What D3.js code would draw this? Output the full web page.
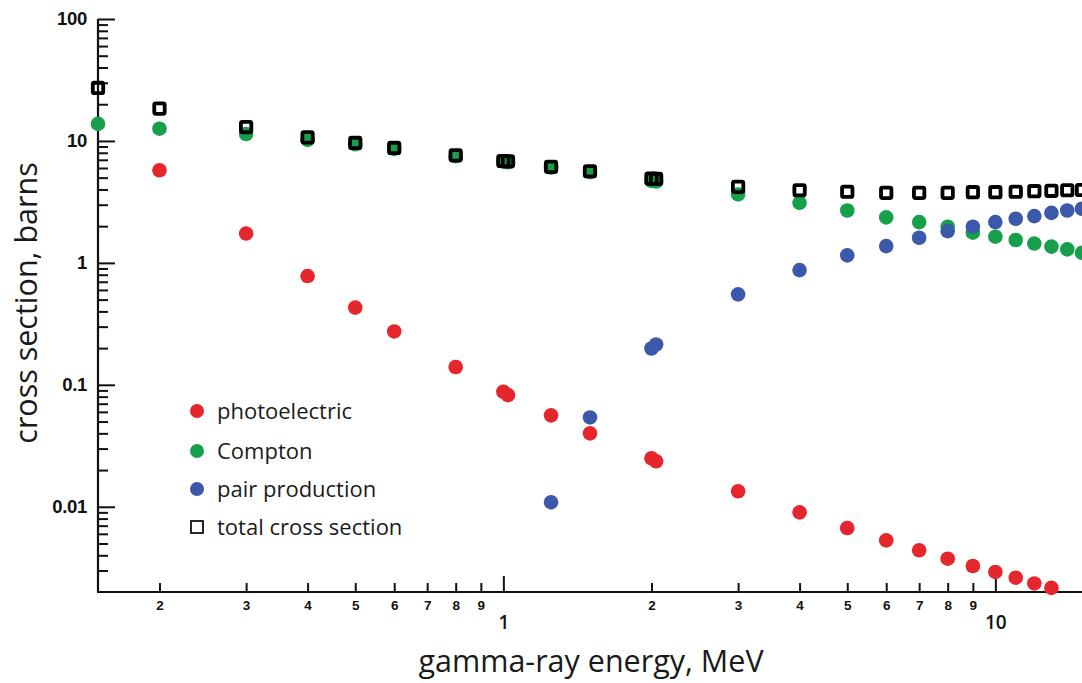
<!DOCTYPE html>
<html>
<head>
<meta charset="utf-8">
<script src="https://cdn.jsdelivr.net/npm/d3@7"></script>
<style>
  body { margin: 0; background: #fff; }
  svg { display: block; }
</style>
</head>
<body>
<div id="chart"></div>
<script>
// Photon energies, MeV
const energies = [0.15, 0.2, 0.3, 0.4, 0.5, 0.6, 0.8, 1.0, 1.022, 1.25, 1.5, 2.0, 2.044,
    3, 4, 5, 6, 7, 8, 9, 10, 11, 12, 13, 14, 15];

// Cross sections in barns (null = no point shown)
const photoelectric = [null, 5.75, 1.74, 0.78, 0.43, 0.274, 0.140, 0.0877, 0.0824, 0.0562, 0.040,
    0.025, 0.0236, 0.0134, 0.0090, 0.0067, 0.0053, 0.0044, 0.00375, 0.00327, 0.00292,
    0.00262, 0.00235, 0.00216, null, null];
const compton = [13.8, 12.6, 11.4, 10.2, 9.4, 8.6, 7.5, 6.76, 6.7, 6.06, 5.55, 4.7, 4.65,
    3.64, 3.11, 2.69, 2.36, 2.16, 1.98, 1.77, 1.64, 1.54, 1.44, 1.36, 1.29, 1.21];
const pairProduction = [null, null, null, null, null, null, null, null, null, 0.0109, 0.054,
    0.1985, 0.214, 0.552, 0.873, 1.152, 1.373, 1.607, 1.82, 1.98, 2.16, 2.30, 2.42, 2.57,
    2.69, 2.78];
const totalCrossSection = [27.2, 18.4, 13.0, 10.7, 9.63, 8.76, 7.62, 6.85, 6.8, 6.13, 5.64,
    4.91, 4.88, 4.20, 3.94, 3.83, 3.75, 3.75, 3.75, 3.80, 3.80, 3.83, 3.87, 3.90, 3.94, 3.96];

// Axis ticks
const xMajorTicks = [1, 10];
const xMinorTicks = [0.2, 0.3, 0.4, 0.5, 0.6, 0.7, 0.8, 0.9, 2, 3, 4, 5, 6, 7, 8, 9];
const yMajorTicks = [0.01, 0.1, 1, 10, 100];
const yMajorLabels = ["0.01", "0.1", "1", "10", "100"];
const yMinorDigits = [2, 3, 4, 5, 6, 7, 8, 9];

const seriesNames = ["photoelectric", "Compton", "pair production", "total cross section"];
const colors = { photo: "#e5262d", compton: "#16a04c", pair: "#3b58aa" };

(function () {
    const W = 1082, H = 683;
    const plotLeft = 98, plotBottom = 592, plotTop = 19;

    const svg = d3.select("#chart").append("svg")
        .attr("width", W)
        .attr("height", H);

    svg.append("rect").attr("width", W).attr("height", H).attr("fill", "#fff");

    // Scales (x runs past the right edge, as in the cropped original)
    const x = d3.scaleLog().domain([0.15, 20]).range([plotLeft, plotLeft + 492 * Math.log10(20 / 0.15)]);
    const y = d3.scaleLog().domain([0.002, 100]).range([plotBottom, plotTop]);

    // Minor y ticks for each decade
    const yMinorTicks = [];
    [0.001, 0.01, 0.1, 1, 10].forEach(function (dec) {
        yMinorDigits.forEach(function (d) {
            const v = d * dec;
            if (v > 0.0021 && v < 100) yMinorTicks.push(v);
        });
    });

    // Y axis: major ticks with labels, minor ticks without
    const yMajor = svg.append("g")
        .attr("transform", `translate(${plotLeft},0)`)
        .call(d3.axisLeft(y).tickValues(yMajorTicks)
            .tickFormat((d, i) => yMajorLabels[i])
            .tickSize(-17).tickPadding(11));
    yMajor.select(".domain").remove();
    yMajor.selectAll("text")
        .attr("font-family", "'Liberation Sans', Arial, sans-serif")
        .attr("font-weight", "bold")
        .attr("font-size", 18.5)
        .attr("letter-spacing", -0.3)
        .attr("fill", "#111");

    const yMinor = svg.append("g")
        .attr("transform", `translate(${plotLeft},0)`)
        .call(d3.axisLeft(y).tickValues(yMinorTicks).tickFormat("").tickSize(-10));
    yMinor.select(".domain").remove();

    // X axis: major and minor ticks, both labelled
    const xMinor = svg.append("g")
        .attr("transform", `translate(0,${plotBottom})`)
        .call(d3.axisBottom(x).tickValues(xMinorTicks)
            .tickFormat(d => Math.round(d / Math.pow(10, Math.floor(Math.log10(d) + 1e-9))))
            .tickSize(-9).tickPadding(8));
    xMinor.select(".domain").remove();
    xMinor.selectAll("text")
        .attr("font-family", "'Liberation Sans', Arial, sans-serif")
        .attr("font-weight", "bold")
        .attr("font-size", 13.5)
        .attr("fill", "#111");

    const xMajor = svg.append("g")
        .attr("transform", `translate(0,${plotBottom})`)
        .call(d3.axisBottom(x).tickValues(xMajorTicks).tickFormat(d3.format("d"))
            .tickSize(-16).tickPadding(24));
    xMajor.select(".domain").remove();
    xMajor.selectAll("text")
        .attr("font-family", "'Open Sans', sans-serif")
        .attr("font-weight", 600)
        .attr("font-size", 19)
        .attr("fill", "#111");

    svg.selectAll(".tick line").attr("stroke", "#111").attr("stroke-width", 2);

    // Axis lines
    svg.append("line")
        .attr("x1", plotLeft).attr("x2", plotLeft)
        .attr("y1", y(100)).attr("y2", plotBottom)
        .attr("stroke", "#111").attr("stroke-width", 2.2);
    svg.append("line")
        .attr("x1", plotLeft - 1).attr("x2", W)
        .attr("y1", plotBottom).attr("y2", plotBottom)
        .attr("stroke", "#111").attr("stroke-width", 2.2);

    // Axis titles
    svg.append("text")
        .attr("x", 591)
        .attr("y", 672)
        .attr("text-anchor", "middle")
        .attr("font-family", "'Open Sans', sans-serif")
        .attr("font-size", 30.5)
        .attr("fill", "#1a1a1a")
        .text("gamma-ray energy, MeV");

    svg.append("text")
        .attr("transform", "translate(37,303) rotate(-90)")
        .attr("text-anchor", "middle")
        .attr("font-family", "'Open Sans', sans-serif")
        .attr("font-size", 30.5)
        .attr("fill", "#1a1a1a")
        .text("cross section, barns");

    // Points
    function dotSeries(values, color) {
        const pts = energies.map((e, i) => ({ e: e, v: values[i] })).filter(d => d.v != null);
        svg.append("g").selectAll("circle")
            .data(pts)
            .join("circle")
            .attr("cx", d => x(d.e))
            .attr("cy", d => y(d.v))
            .attr("r", 7.3)
            .attr("fill", color);
    }

    dotSeries(photoelectric, colors.photo);
    dotSeries(compton, colors.compton);
    dotSeries(pairProduction, colors.pair);

    const totals = energies.map((e, i) => ({ e: e, v: totalCrossSection[i] }));
    svg.append("g").selectAll("rect")
        .data(totals)
        .join("rect")
        .attr("x", d => x(d.e) - 5.2)
        .attr("y", d => y(d.v) - 5.2)
        .attr("width", 10.4)
        .attr("height", 10.4)
        .attr("rx", 1.5)
        .attr("fill", "none")
        .attr("stroke", "#000")
        .attr("stroke-width", 3.8);

    // Legend
    const legendY = [411, 451, 489, 527];
    const legend = svg.append("g");
    const legendColors = [colors.photo, colors.compton, colors.pair, null];
    seriesNames.forEach(function (name, i) {
        if (legendColors[i]) {
            legend.append("circle")
                .attr("cx", 197).attr("cy", legendY[i])
                .attr("r", 7).attr("fill", legendColors[i]);
        } else {
            legend.append("rect")
                .attr("x", 191).attr("y", legendY[i] - 6)
                .attr("width", 12).attr("height", 12)
                .attr("fill", "none").attr("stroke", "#111").attr("stroke-width", 1.8);
        }
        legend.append("text")
            .attr("x", 217)
            .attr("y", legendY[i] + 7.5)
            .attr("font-family", "'Open Sans', sans-serif")
            .attr("font-size", 22)
            .attr("fill", "#1a1a1a")
            .text(name);
    });
})();
</script>
</body>
</html>
